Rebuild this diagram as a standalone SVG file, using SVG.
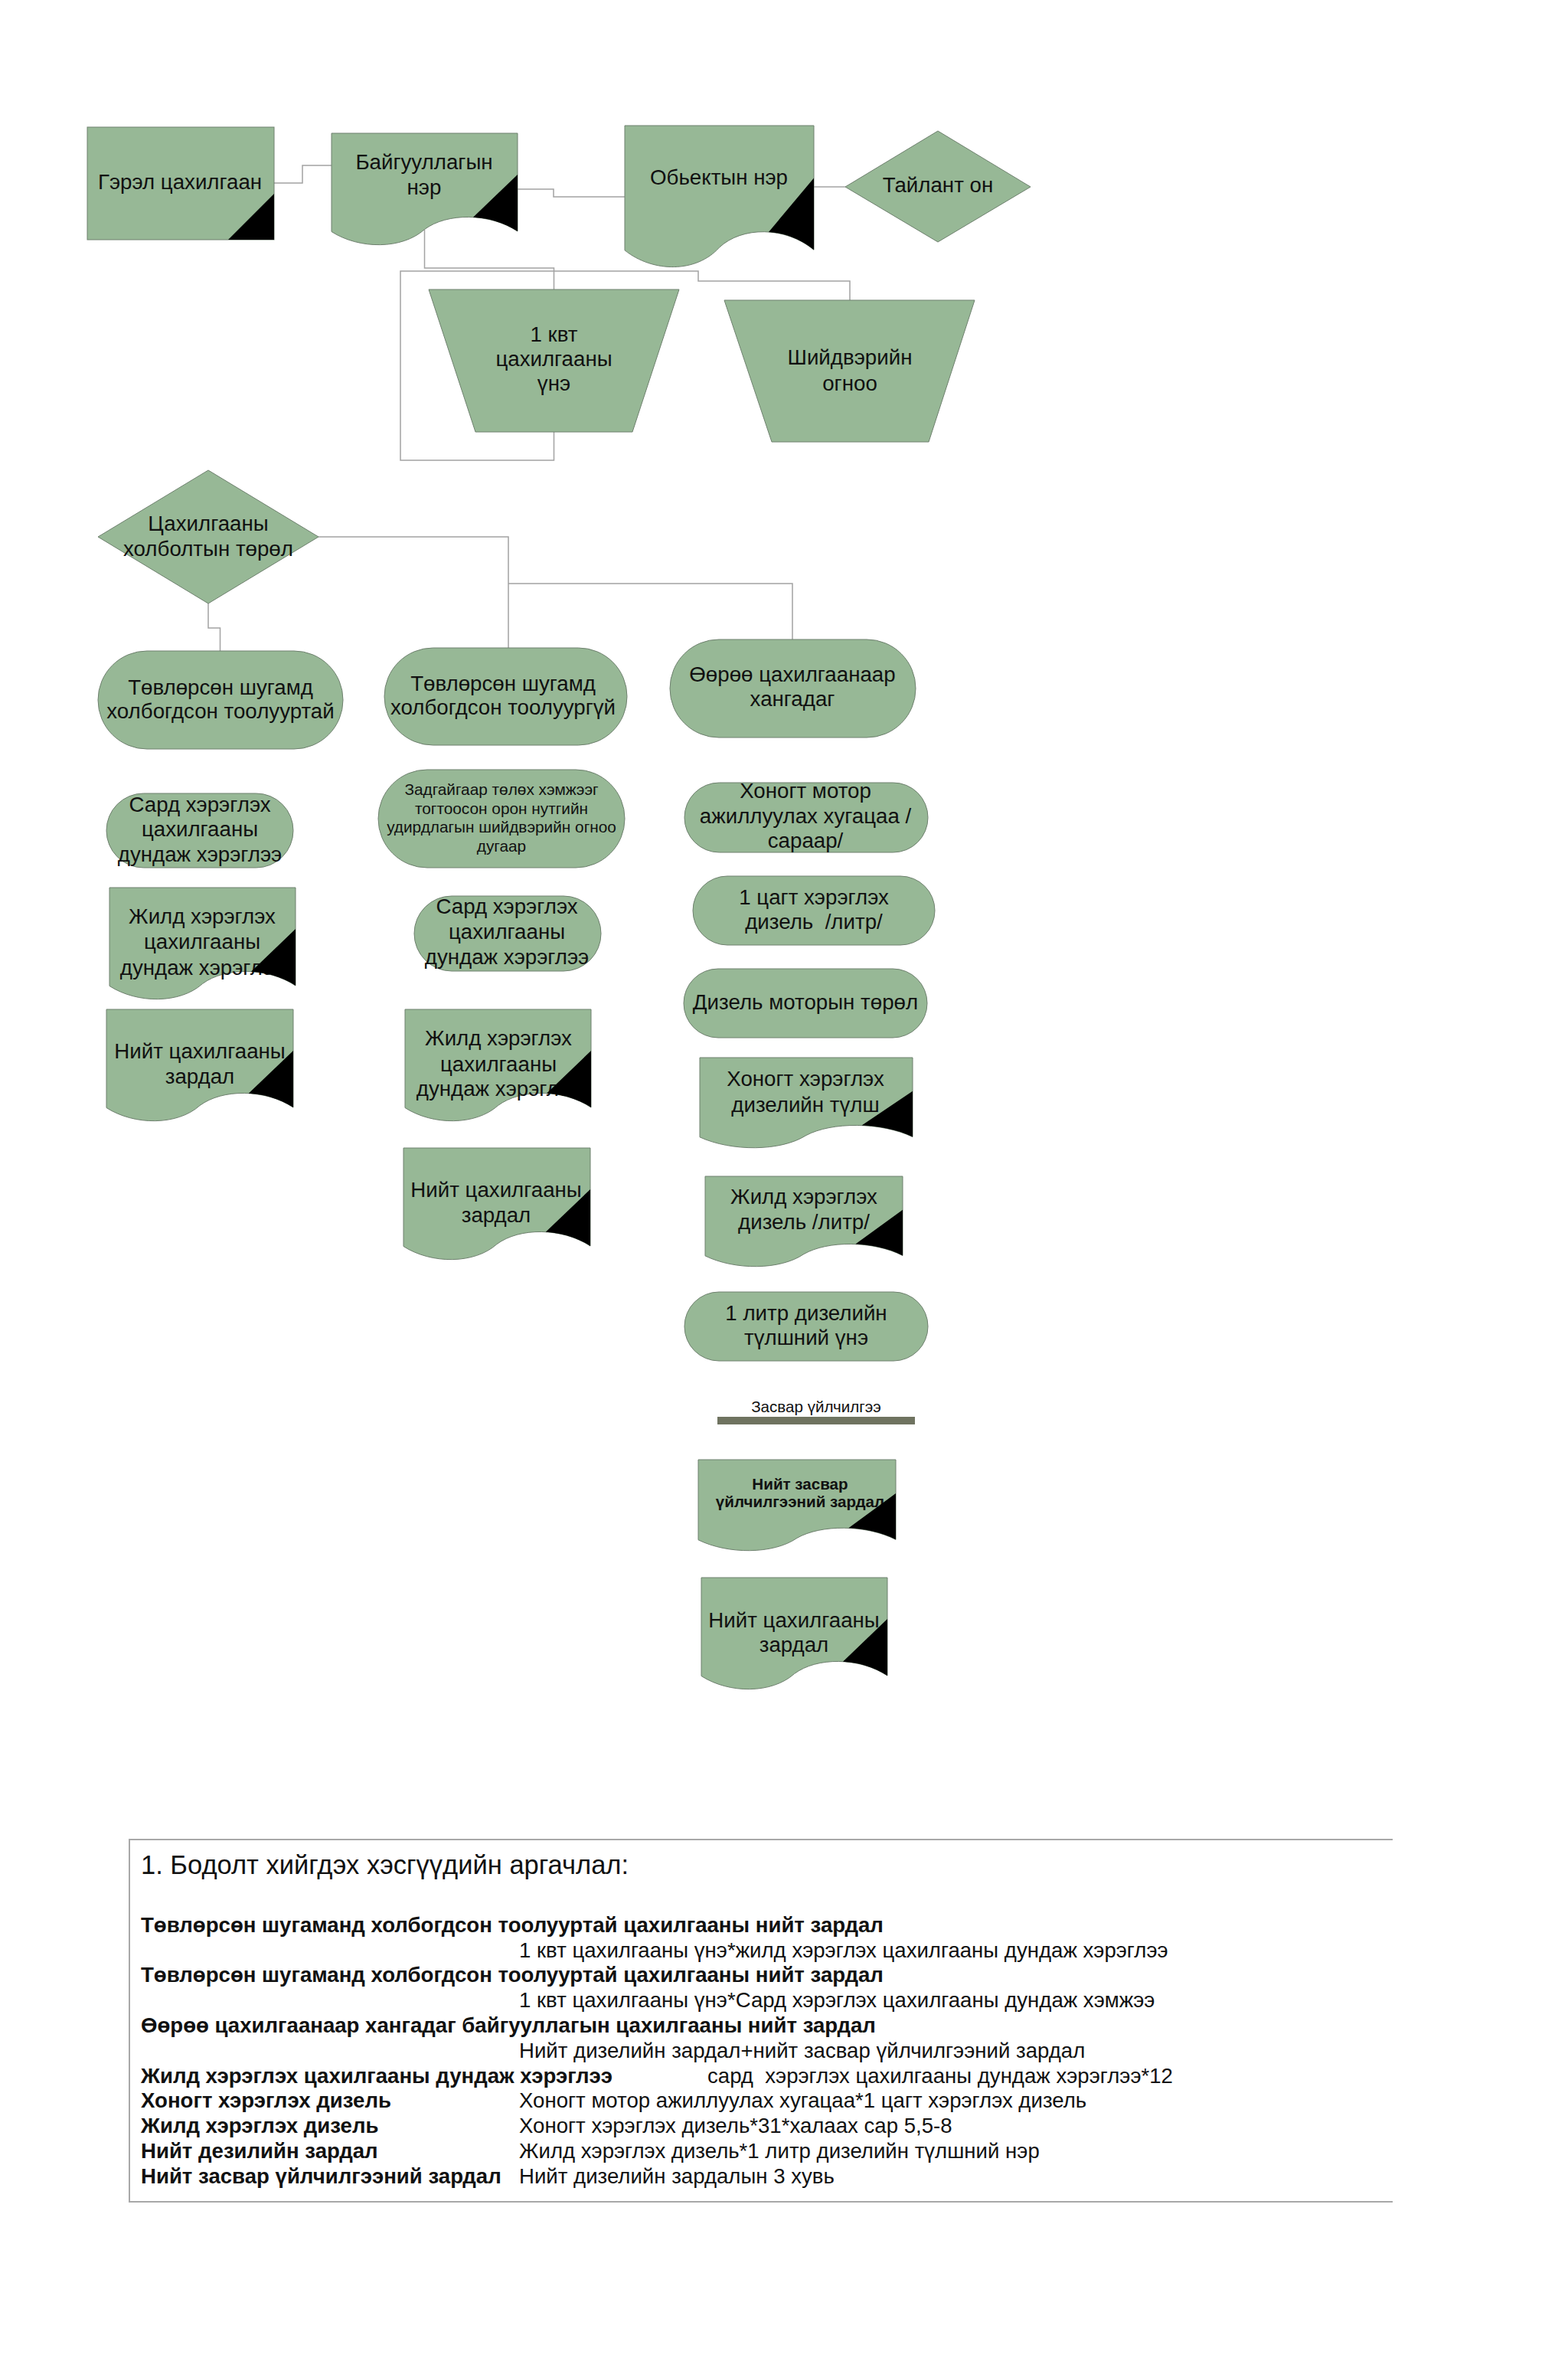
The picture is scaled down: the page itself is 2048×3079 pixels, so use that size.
<svg xmlns="http://www.w3.org/2000/svg" width="2048" height="3079" viewBox="0 0 2048 3079">
<style>
.n{fill:#97b896;stroke:#6e806e;stroke-width:1}
.k{fill:#000}
.t{font-family:"Liberation Sans",Arial,sans-serif;font-size:27.7px;fill:#111;text-anchor:middle}
.s{font-size:20.8px}
.sm{font-size:20.6px}
.c{fill:none;stroke:#a3a3a3;stroke-width:1.5}
.b{font-family:"Liberation Sans",Arial,sans-serif;font-size:27.6px;fill:#111}
.bb{font-weight:bold}
.fr{fill:none;stroke:#a8a8a8;stroke-width:2}
</style>
<defs>
<path id="docShape" d="M0,0 H1 V0.877 C0.85,0.71 0.62,0.71 0.5,0.86 C0.38,1.04 0.15,1.04 0,0.88 Z" fill="#97b896" stroke="#6e806e" stroke-width="1" vector-effect="non-scaling-stroke"/>
<path id="docCorner" d="M1,0.37 L1,0.877 C0.931,0.8 0.845,0.759 0.761,0.751 Z" fill="#000"/>
</defs>
<rect x="0" y="0" width="2048" height="3079" fill="#ffffff"/>

<g id="connectors">
<polyline class="c" points="358,239 395,239 395,216 433,216"/>
<polyline class="c" points="676,247 723,247 723,257 816,257"/>
<polyline class="c" points="1063,244 1104,244"/>
<polyline class="c" points="554.5,300 554.5,350 723.5,350 723.5,378"/>
<polyline class="c" points="723.5,564 723.5,601 523,601 523,354 912,354 912,367 1110,367 1110,392"/>
<polyline class="c" points="416,701 664,701 664,846"/>
<polyline class="c" points="664,762 1035,762 1035,835"/>
<polyline class="c" points="272,788 272,820 287.5,820 287.5,850"/>
</g>

<g id="n-gerel">
<rect class="n" x="114" y="166" width="244" height="147"/>
<text class="t" x="235" y="247">Гэрэл цахилгаан</text>
<polygon class="k" points="298,313 358,253 358,313"/>
</g>

<g id="n-baiguullaga">
<use href="#docShape" transform="translate(433,174) scale(243,146)"/>
<text class="t" x="554" y="221">Байгууллагын<tspan x="554" y="254">нэр</tspan></text>
<use href="#docCorner" transform="translate(433,174) scale(243,146)"/>
</g>

<g id="n-obekt">
<use href="#docShape" transform="translate(816,164) scale(247,185)"/>
<text class="t" x="939" y="241">Обьектын нэр</text>
<use href="#docCorner" transform="translate(816,164) scale(247,185)"/>
</g>

<g id="n-tailant">
<polygon class="n" points="1104,244 1225,171 1346,244 1225,316"/>
<text class="t" x="1225" y="251">Тайлант он</text>
</g>

<g id="n-kvt">
<polygon class="n" points="560,378 887,378 826,564 621,564"/>
<text class="t" x="723.5" y="446">1 квт<tspan x="723.5" y="478">цахилгааны</tspan><tspan x="723.5" y="510">үнэ</tspan></text>
</g>

<g id="n-shiidver">
<polygon class="n" points="946,392 1273,392 1213,577 1008,577"/>
<text class="t" x="1110" y="476">Шийдвэрийн<tspan x="1110" y="510">огноо</tspan></text>
</g>

<g id="n-kholbolt">
<polygon class="n" points="128,701 272,614 416,701 272,788"/>
<text class="t" x="272" y="693">Цахилгааны<tspan x="272" y="726">холболтын төрөл</tspan></text>
</g>

<g id="n-tooluurtai">
<rect class="n" x="128" y="850" width="320" height="128" rx="64" ry="64"/>
<text class="t" x="288" y="907">Төвлөрсөн шугамд<tspan x="288" y="938">холбогдсон тоолууртай</tspan></text>
</g>

<g id="n-tooluurgui">
<rect class="n" x="502" y="846" width="317" height="127" rx="63.5" ry="63.5"/>
<text class="t" x="657" y="902">Төвлөрсөн шугамд<tspan x="657" y="933">холбогдсон тоолуургүй</tspan></text>
</g>

<g id="n-oroo">
<rect class="n" x="875" y="835" width="321" height="128" rx="64" ry="64"/>
<text class="t" x="1035" y="890">Өөрөө цахилгаанаар<tspan x="1035" y="922">хангадаг</tspan></text>
</g>

<g id="n-sard1">
<rect class="n" x="139" y="1036" width="244" height="97" rx="48.5" ry="48.5"/>
<text class="t" x="261" y="1060">Сард хэрэглэх<tspan x="261" y="1092">цахилгааны</tspan><tspan x="261" y="1125">дундаж хэрэглээ</tspan></text>
</g>

<g id="n-jild1">
<use href="#docShape" transform="translate(143,1159) scale(243,146)"/>
<text class="t" x="264" y="1206">Жилд хэрэглэх<tspan x="264" y="1239">цахилгааны</tspan><tspan x="264" y="1273">дундаж хэрэглээ</tspan></text>
<use href="#docCorner" transform="translate(143,1159) scale(243,146)"/>
</g>

<g id="n-niit1">
<use href="#docShape" transform="translate(139,1318) scale(244,146)"/>
<text class="t" x="261" y="1382">Нийт цахилгааны<tspan x="261" y="1415">зардал</tspan></text>
<use href="#docCorner" transform="translate(139,1318) scale(244,146)"/>
</g>

<g id="n-zadgai">
<rect class="n" x="494" y="1005" width="322" height="128" rx="64" ry="64"/>
<text class="t s" x="655" y="1038">Задгайгаар төлөх хэмжээг<tspan x="655" y="1062.5">тогтоосон орон нутгийн</tspan><tspan x="655" y="1087">удирдлагын шийдвэрийн огноо</tspan><tspan x="655" y="1111.5">дугаар</tspan></text>
</g>

<g id="n-sard2">
<rect class="n" x="541" y="1170" width="244" height="98" rx="49" ry="49"/>
<text class="t" x="662" y="1193">Сард хэрэглэх<tspan x="662" y="1226">цахилгааны</tspan><tspan x="662" y="1259">дундаж хэрэглээ</tspan></text>
</g>

<g id="n-jild2">
<use href="#docShape" transform="translate(529,1318) scale(243,146)"/>
<text class="t" x="651" y="1365">Жилд хэрэглэх<tspan x="651" y="1399">цахилгааны</tspan><tspan x="651" y="1431">дундаж хэрэглээ</tspan></text>
<use href="#docCorner" transform="translate(529,1318) scale(243,146)"/>
</g>

<g id="n-niit2">
<use href="#docShape" transform="translate(527,1499) scale(244,146)"/>
<text class="t" x="648" y="1563">Нийт цахилгааны<tspan x="648" y="1596">зардал</tspan></text>
<use href="#docCorner" transform="translate(527,1499) scale(244,146)"/>
</g>

<g id="n-motor">
<rect class="n" x="894" y="1022" width="318" height="91" rx="45.5" ry="45.5"/>
<text class="t" x="1052" y="1042">Хоногт мотор<tspan x="1052" y="1075">ажиллуулах хугацаа /</tspan><tspan x="1052" y="1107">сараар/</tspan></text>
</g>

<g id="n-tsag">
<rect class="n" x="905" y="1144" width="316" height="90" rx="45" ry="45"/>
<text class="t" x="1063" y="1181" xml:space="preserve">1 цагт хэрэглэх<tspan x="1063" y="1213">дизель  /литр/</tspan></text>
</g>

<g id="n-dizeltorol">
<rect class="n" x="893" y="1265" width="318" height="90" rx="45" ry="45"/>
<text class="t" x="1052" y="1318">Дизель моторын төрөл</text>
</g>

<g id="n-khonogt">
<use href="#docShape" transform="translate(914,1381) scale(278,118)"/>
<text class="t" x="1052" y="1418">Хоногт хэрэглэх<tspan x="1052" y="1452">дизелийн түлш</tspan></text>
<use href="#docCorner" transform="translate(914,1381) scale(278,118)"/>
</g>

<g id="n-jildiz">
<use href="#docShape" transform="translate(921,1536) scale(258,118)"/>
<text class="t" x="1050" y="1572">Жилд хэрэглэх<tspan x="1050" y="1605">дизель /литр/</tspan></text>
<use href="#docCorner" transform="translate(921,1536) scale(258,118)"/>
</g>

<g id="n-litr">
<rect class="n" x="894" y="1687" width="318" height="90" rx="45" ry="45"/>
<text class="t" x="1053" y="1724">1 литр дизелийн<tspan x="1053" y="1756">түлшний үнэ</tspan></text>
</g>

<g id="n-zasvar">
<text class="t sm" x="1066" y="1844">Засвар үйлчилгээ</text>
<rect x="937" y="1850" width="258" height="10" fill="#6f7360"/>
</g>

<g id="n-niitzasvar">
<use href="#docShape" transform="translate(912,1906) scale(258,119)"/>
<text class="t sm bb" x="1045" y="1945">Нийт засвар<tspan x="1045" y="1968">үйлчилгээний зардал</tspan></text>
<use href="#docCorner" transform="translate(912,1906) scale(258,119)"/>
</g>

<g id="n-niit3">
<use href="#docShape" transform="translate(916,2060) scale(243,146)"/>
<text class="t" x="1037" y="2125">Нийт цахилгааны<tspan x="1037" y="2157">зардал</tspan></text>
<use href="#docCorner" transform="translate(916,2060) scale(243,146)"/>
</g>

<g id="method-block">
<polyline class="fr" points="1819,2402 169,2402 169,2875 1819,2875"/>
<text class="b" x="184" y="2447" style="font-size:34.5px">1. Бодолт хийгдэх хэсгүүдийн аргачлал:</text>
<text class="b bb" x="184" y="2522.7">Төвлөрсөн шугаманд холбогдсон тоолууртай цахилгааны нийт зардал</text>
<text class="b" x="678" y="2555.5">1 квт цахилгааны үнэ*жилд хэрэглэх цахилгааны дундаж хэрэглээ</text>
<text class="b bb" x="184" y="2588.3">Төвлөрсөн шугаманд холбогдсон тоолууртай цахилгааны нийт зардал</text>
<text class="b" x="678" y="2621.1">1 квт цахилгааны үнэ*Сард хэрэглэх цахилгааны дундаж хэмжээ</text>
<text class="b bb" x="184" y="2653.9">Өөрөө цахилгаанаар хангадаг байгууллагын цахилгааны нийт зардал</text>
<text class="b" x="678" y="2686.7">Нийт дизелийн зардал+нийт засвар үйлчилгээний зардал</text>
<text class="b bb" x="184" y="2719.5">Жилд хэрэглэх цахилгааны дундаж хэрэглээ</text>
<text class="b" x="924" y="2719.5" xml:space="preserve">сард  хэрэглэх цахилгааны дундаж хэрэглээ*12</text>
<text class="b bb" x="184" y="2752.3">Хоногт хэрэглэх дизель</text>
<text class="b" x="678" y="2752.3">Хоногт мотор ажиллуулах хугацаа*1 цагт хэрэглэх дизель</text>
<text class="b bb" x="184" y="2785.1">Жилд хэрэглэх дизель</text>
<text class="b" x="678" y="2785.1">Хоногт хэрэглэх дизель*31*халаах сар 5,5-8</text>
<text class="b bb" x="184" y="2817.9">Нийт дезилийн зардал</text>
<text class="b" x="678" y="2817.9">Жилд хэрэглэх дизель*1 литр дизелийн түлшний нэр</text>
<text class="b bb" x="184" y="2850.7">Нийт засвар үйлчилгээний зардал</text>
<text class="b" x="678" y="2850.7">Нийт дизелийн зардалын 3 хувь</text>
</g>
</svg>
